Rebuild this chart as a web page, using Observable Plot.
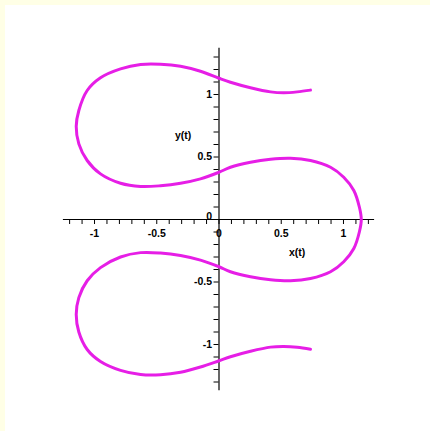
<!DOCTYPE html>
<html>
<head>
<meta charset="utf-8">
<script src="https://cdn.jsdelivr.net/npm/d3@7"></script>
<script src="https://cdn.jsdelivr.net/npm/@observablehq/plot@0.6"></script>
<style>
  html, body { margin: 0; padding: 0; background: #ffffe6; }
  #chart { padding: 5px 0 0 5px; }
  #chart svg { display: block; background: #ffffff; }
</style>
</head>
<body>
<div id="chart"></div>
<script>
// Parametric curve (x(t), y(t)), sampled along t from the top end to the bottom end
const xs = [
  0.735, 0.628, 0.52, 0.414, 0.253, 0.092, 0.0, -0.149, -0.309, -0.47, -0.63, -0.791, -0.952,
  -1.059, -1.126, -1.147, -1.126, -1.059, -0.952, -0.791, -0.63, -0.47, -0.309, -0.149,
  0.0, 0.092, 0.253, 0.414, 0.574, 0.735, 0.896, 1.002, 1.083, 1.128, 1.143,
  1.128, 1.083, 1.002, 0.896, 0.735, 0.574, 0.414, 0.253, 0.092, 0.0,
  -0.149, -0.309, -0.47, -0.63, -0.791, -0.952, -1.059, -1.126, -1.147, -1.126, -1.059,
  -0.952, -0.791, -0.63, -0.47, -0.309, -0.149, 0.0, 0.092, 0.253, 0.414, 0.52, 0.628, 0.735
];
const ys = [
  1.035, 1.021, 1.014, 1.021, 1.054, 1.098, 1.13, 1.186, 1.226, 1.242, 1.24, 1.205, 1.134,
  1.032, 0.872, 0.745, 0.605, 0.472, 0.365, 0.29, 0.264, 0.27, 0.29, 0.325,
  0.378, 0.418, 0.458, 0.482, 0.49, 0.472, 0.418, 0.338, 0.232, 0.098, 0.0,
  -0.098, -0.232, -0.338, -0.418, -0.472, -0.49, -0.482, -0.458, -0.418, -0.378,
  -0.325, -0.288, -0.268, -0.265, -0.3, -0.385, -0.49, -0.625, -0.76, -0.9, -1.04,
  -1.136, -1.207, -1.24, -1.242, -1.222, -1.18, -1.13, -1.098, -1.054, -1.021, -1.016, -1.022, -1.038
];

// Axis ticks (every 0.1) and labelled tick values
const xTicks = d3.range(-12, 13).map(i => i / 10);
const yTicks = d3.range(-13, 14).map(i => i / 10);
const xLabels = [-1, -0.5, 0, 0.5, 1];
const yLabels = [-1, -0.5, 0.5, 1];
const yZeroLabel = [0];
const xExtent = [-1.25, 1.25];
const yExtent = [-1.37, 1.37];

const curve = xs.map((x, i) => ({x, y: ys[i]}));
const fmt = v => String(v);
const tickLen = 0.04;

const chart = Plot.plot({
  width: 425,
  height: 426,
  margin: 0,
  x: {domain: xExtent, range: [57.9, 369.1], axis: null},
  y: {domain: yExtent, range: [385.25, 42.75], axis: null},
  style: {fontFamily: "'Liberation Sans', Arial, sans-serif", fontWeight: "bold", fontSize: "10.5px", overflow: "visible"},
  marks: [
    // axis lines crossing at the origin
    Plot.ruleY([0], {x1: xExtent[0], x2: xExtent[1], stroke: "#000", strokeWidth: 1.2}),
    Plot.ruleX([0], {y1: yExtent[0], y2: yExtent[1], stroke: "#000", strokeWidth: 1.2}),
    // tick marks
    Plot.ruleX(xTicks, {x: d => d, y1: 0, y2: -tickLen, stroke: "#000", strokeWidth: 1}),
    Plot.ruleY(yTicks, {y: d => d, x1: -tickLen, x2: 0, stroke: "#000", strokeWidth: 1}),
    // tick labels
    Plot.text(xLabels, {x: d => d, y: 0, text: fmt, dy: 14, fill: "#000", fontWeight: "bold"}),
    Plot.text(yLabels, {x: 0, y: d => d, text: fmt, dx: -7, textAnchor: "end", fill: "#000", fontWeight: "bold"}),
    Plot.text(yZeroLabel, {x: 0, y: d => d, text: fmt, dx: -7, dy: -3, textAnchor: "end", fill: "#000", fontWeight: "bold"}),
    // axis titles
    Plot.text(["x(t)"], {x: 0.628, y: -0.266, text: d => d, fill: "#000", fontWeight: "bold"}),
    Plot.text(["y(t)"], {x: -0.288, y: 0.672, text: d => d, fill: "#000", fontWeight: "bold"}),
    // the curve
    Plot.line(curve, {x: "x", y: "y", curve: "catmull-rom", stroke: "#e61ee6", strokeWidth: 3})
  ]
});

document.getElementById("chart").append(chart);
</script>
</body>
</html>
